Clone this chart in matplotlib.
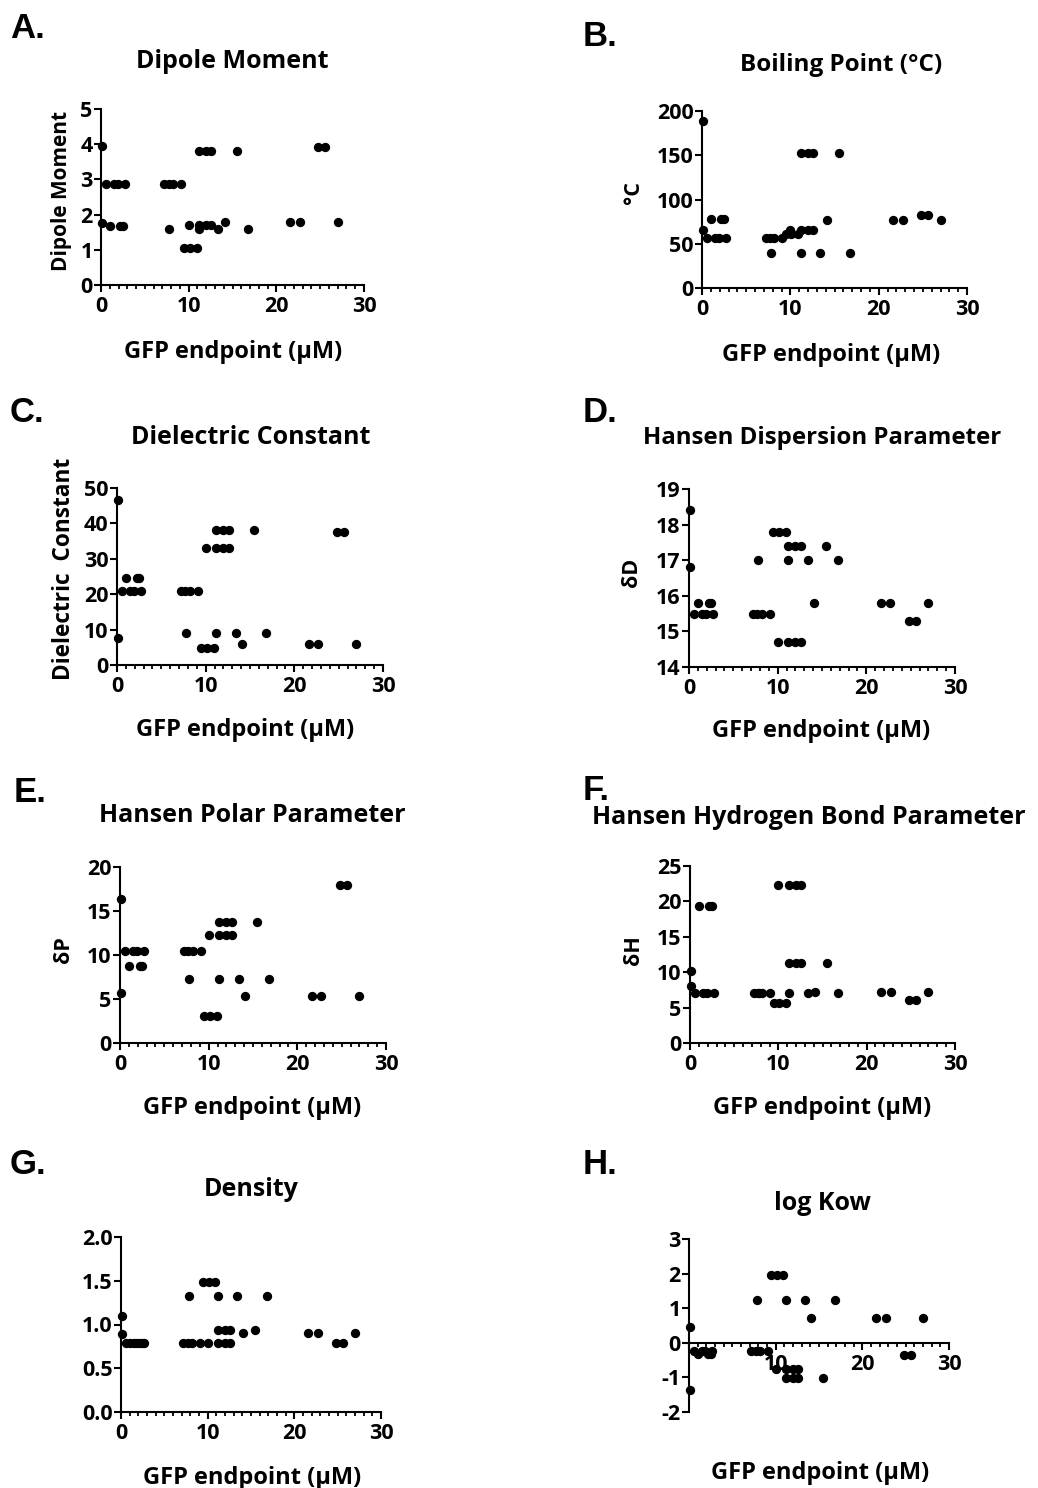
import matplotlib
matplotlib.use("Agg")
import matplotlib.pyplot as plt
from matplotlib.ticker import MultipleLocator, FormatStrFormatter

plt.rcParams['font.family'] = ['Open Sans', 'DejaVu Sans']
plt.rcParams['font.weight'] = 'bold'

# GFP endpoint (uM) for each point, shared by all panels
gfp_endpoint = [0.1, 0.1, 0.6, 1.0, 1.5, 1.9, 2.2, 2.5, 2.7, 7.2, 7.8, 7.7,
                8.2, 9.1, 9.5, 10.0, 10.1, 10.9, 11.2, 11.2, 11.2, 12.0,
                12.0, 12.6, 12.6, 13.4, 14.1, 15.5, 16.8, 21.6, 22.7, 24.8,
                25.6, 27.0]

dipole_moment = [3.96, 1.75, 2.88, 1.69, 2.88, 2.88, 1.69, 1.69, 2.88, 2.88,
                 1.60, 2.88, 2.88, 2.88, 1.04, 1.70, 1.04, 1.04, 3.82, 1.70,
                 1.60, 3.82, 1.70, 3.82, 1.70, 1.60, 1.78, 3.82, 1.60, 1.78,
                 1.78, 3.92, 3.92, 1.78]

boiling_point = [189, 66, 56, 78, 56, 56, 78, 78, 56, 56, 40, 56, 56, 56, 61,
                 65, 61, 61, 153, 65, 40, 153, 65, 153, 65, 40, 77, 153, 40,
                 77, 77, 82, 82, 77]

dielectric = [46.7, 7.5, 21.0, 24.5, 21.0, 21.0, 24.5, 24.5, 21.0, 21.0, 9.1,
              21.0, 21.0, 21.0, 4.8, 33.0, 4.8, 4.8, 38.0, 33.0, 9.1, 38.0,
              33.0, 38.0, 33.0, 9.1, 6.0, 38.0, 9.1, 6.0, 6.0, 37.5, 37.5, 6.0]

hansen_d = [18.4, 16.8, 15.5, 15.8, 15.5, 15.5, 15.8, 15.8, 15.5, 15.5, 17.0,
            15.5, 15.5, 15.5, 17.8, 14.7, 17.8, 17.8, 17.4, 14.7, 17.0, 17.4,
            14.7, 17.4, 14.7, 17.0, 15.8, 17.4, 17.0, 15.8, 15.8, 15.3, 15.3,
            15.8]

hansen_p = [16.4, 5.7, 10.4, 8.8, 10.4, 10.4, 8.8, 8.8, 10.4, 10.4, 7.3, 10.4,
            10.4, 10.4, 3.1, 12.3, 3.1, 3.1, 13.7, 12.3, 7.3, 13.7, 12.3, 13.7,
            12.3, 7.3, 5.3, 13.7, 7.3, 5.3, 5.3, 18.0, 18.0, 5.3]

hansen_h = [10.2, 8.0, 7.0, 19.4, 7.0, 7.0, 19.4, 19.4, 7.0, 7.0, 7.1, 7.0,
            7.0, 7.0, 5.7, 22.3, 5.7, 5.7, 11.3, 22.3, 7.1, 11.3, 22.3, 11.3,
            22.3, 7.1, 7.2, 11.3, 7.1, 7.2, 7.2, 6.1, 6.1, 7.2]

density = [1.10, 0.89, 0.79, 0.79, 0.79, 0.79, 0.79, 0.79, 0.79, 0.79, 1.33,
           0.79, 0.79, 0.79, 1.49, 0.79, 1.49, 1.49, 0.94, 0.79, 1.33, 0.94,
           0.79, 0.94, 0.79, 1.33, 0.90, 0.94, 1.33, 0.90, 0.90, 0.79, 0.79,
           0.90]

log_kow = [-1.35, 0.46, -0.24, -0.31, -0.24, -0.24, -0.31, -0.31, -0.24,
           -0.24, 1.25, -0.24, -0.24, -0.24, 1.97, -0.77, 1.97, 1.97, -1.01,
           -0.77, 1.25, -1.01, -0.77, -1.01, -0.77, 1.25, 0.73, -1.01, 1.25,
           0.73, 0.73, -0.34, -0.34, 0.73]

W, H = 1038, 1488
fig = plt.figure(figsize=(W / 100, H / 100), dpi=100)


def rect(l, t, r, b):
    return [l / W, 1 - b / H, (r - l) / W, (b - t) / H]


def text(x, y, s, **kw):
    kw.setdefault('ha', 'center')
    kw.setdefault('va', 'center')
    fig.text(x / W, 1 - y / H, s, **kw)


def scatter_panel(box, yvals, ylim, ystep, fmt='%d'):
    ax = fig.add_axes(rect(*box))
    ax.plot(gfp_endpoint, yvals, 'o', color='black', markersize=5.7,
            clip_on=False, zorder=3)
    ax.set_xlim(0, 30)
    ax.set_ylim(*ylim)
    ax.xaxis.set_major_locator(MultipleLocator(10))
    ax.xaxis.set_minor_locator(MultipleLocator(1))
    ax.yaxis.set_major_locator(MultipleLocator(ystep))
    ax.yaxis.set_major_formatter(FormatStrFormatter(fmt))
    for side in ['top', 'right']:
        ax.spines[side].set_visible(False)
    for side in ['left', 'bottom']:
        ax.spines[side].set_linewidth(1.5)
    ax.tick_params(which='major', length=5, width=1.5, labelsize=15.5, pad=1)
    ax.tick_params(which='minor', length=3, width=1.3)
    ax.tick_params(axis='x', pad=3)
    ax.patch.set_visible(False)
    return ax


panels = [
    ((101, 109, 364, 285), dipole_moment, (0, 5), 1, '%d'),
    ((702, 111, 967, 288), boiling_point, (0, 200), 50, '%d'),
    ((117, 488, 383, 665), dielectric, (0, 50), 10, '%d'),
    ((689, 489, 955, 667), hansen_d, (14, 19), 1, '%d'),
    ((120, 867, 386, 1043), hansen_p, (0, 20), 5, '%d'),
    ((690, 866, 955, 1043), hansen_h, (0, 25), 5, '%d'),
    ((121, 1237, 381, 1412), density, (0, 2), 0.5, '%.1f'),
    ((689, 1239, 949, 1412), log_kow, (-2, 3), 1, '%d'),
]

axes = [scatter_panel(*p) for p in panels]

# log Kow panel: x axis crosses at zero, no "0" label on x
axh = axes[7]
axh.spines['bottom'].set_position(('data', 0))
axh.set_xticks([0, 10, 20, 30])
axh.set_xticklabels(['', '10', '20', '30'])

titles = [
    (232, 61, 'Dipole Moment', 18),
    (841, 65, 'Boiling Point (°C)', 17.5),
    (251, 438, 'Dielectric Constant', 18),
    (822, 438, 'Hansen Dispersion Parameter', 17.3),
    (252, 816, 'Hansen Polar Parameter', 18),
    (809, 817, 'Hansen Hydrogen Bond Parameter', 18),
    (251, 1190, 'Density', 18),
    (822, 1203, 'log Kow', 18),
]
for x, y, s, size in titles:
    text(x, y, s, fontsize=size, fontweight='bold')

xlabels = [(233, 352), (831, 355), (245, 730), (821, 731),
           (252, 1108), (822, 1108), (252, 1478), (820, 1473)]
for x, y in xlabels:
    text(x, y, 'GFP endpoint (μM)', fontsize=17, fontweight='bold')

ylabels = [(62, 191, 'Dipole Moment', 15), (633, 192, '°C', 15.5),
           (64, 569, 'Dielectric  Constant', 16.3), (632, 572, 'δD', 15.5),
           (63, 950, 'δP', 15.5), (633, 950, 'δH', 15.5)]
for x, y, s, size in ylabels:
    text(x, y, s, fontsize=size, fontweight='bold', rotation=90)

letters = [(10, 29, 'A.'), (583, 36, 'B.'), (10, 412, 'C.'), (583, 412, 'D.'),
           (14, 793, 'E.'), (583, 790, 'F.'), (10, 1165, 'G.'), (583, 1165, 'H.')]
for x, y, s in letters:
    text(x, y, s, ha='left', fontsize=25, fontweight='bold',
         family='Liberation Sans')

fig.savefig('out.png', dpi=100)
